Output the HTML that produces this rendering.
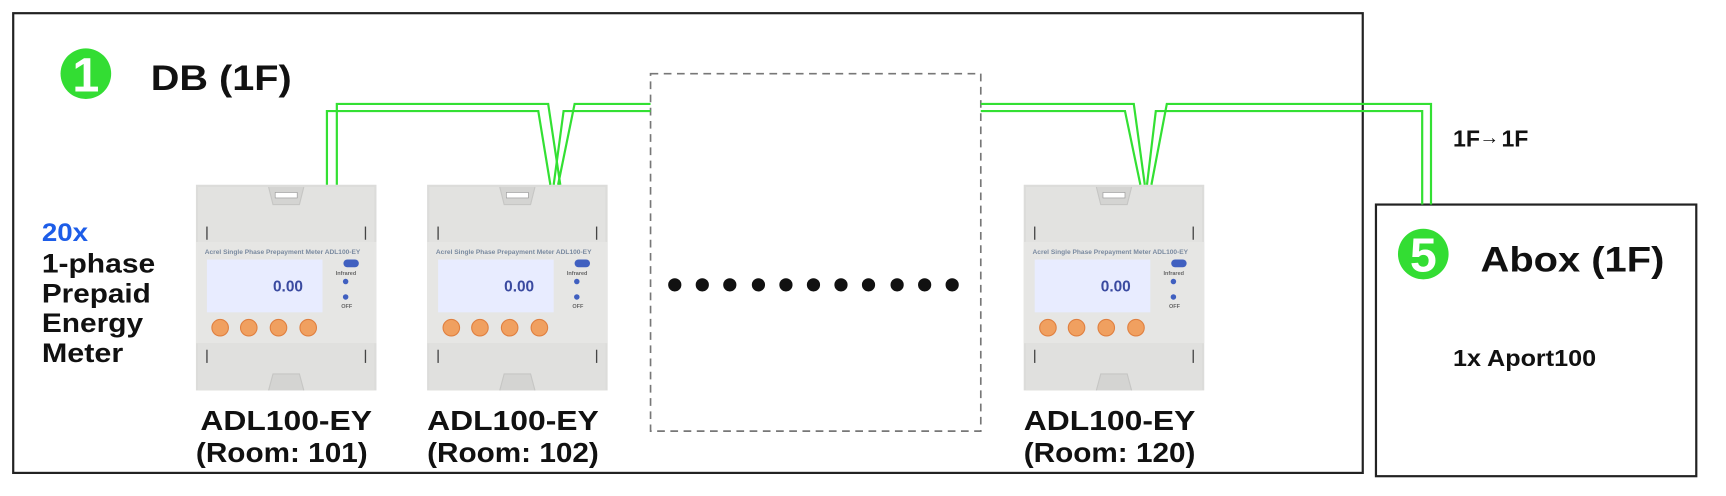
<!DOCTYPE html>
<html><head><meta charset="utf-8"><style>
html,body{margin:0;padding:0;background:#fff;}
svg{display:block;}
text{font-family:"Liberation Sans",Arial,sans-serif;font-weight:bold;}
</style></head><body>
<svg width="1726" height="496" viewBox="0 0 1568 451" preserveAspectRatio="none" xmlns="http://www.w3.org/2000/svg">
<defs>
<g id="m">
  <rect x="0" y="0" width="164" height="187" fill="#dcdcda"/>
  <rect x="2" y="2" width="160" height="50" fill="#e2e2e0"/>
  <path d="M66 2 L70 18 L94 18 L98 2" fill="#d4d4d2" stroke="#c6c6c4"/>
  <rect x="72" y="7" width="20" height="5" fill="#fff" stroke="#999" stroke-width="0.6"/>
  <line x1="10" y1="38" x2="10" y2="50" stroke="#444" stroke-width="1.2"/>
  <line x1="154" y1="38" x2="154" y2="50" stroke="#444" stroke-width="1.2"/>
  <rect x="0" y="52" width="164" height="92" fill="#e6e6e4"/>
  <text x="8" y="63" font-size="6" fill="#7a8aa0" font-weight="normal">Acrel  Single Phase Prepayment Meter  ADL100-EY</text>
  <rect x="10" y="68" width="105" height="48" fill="#e8ecff"/>
  <text x="70" y="97" font-size="14" fill="#3a4aa0" font-weight="normal">0.00</text>
  <rect x="134" y="68" width="14" height="7" rx="3.5" fill="#4060c0"/>
  <text x="127" y="82" font-size="5" fill="#666" font-weight="normal">Infrared</text>
  <circle cx="136" cy="88" r="2.5" fill="#4060c0"/>
  <circle cx="136" cy="102" r="2.5" fill="#4060c0"/>
  <text x="132" y="112" font-size="5" fill="#666" font-weight="normal">OFF</text>
  <circle cx="22" cy="130" r="7.5" fill="#f0a060" stroke="#e08040"/>
  <circle cx="48" cy="130" r="7.5" fill="#f0a060" stroke="#e08040"/>
  <circle cx="75" cy="130" r="7.5" fill="#f0a060" stroke="#e08040"/>
  <circle cx="102" cy="130" r="7.5" fill="#f0a060" stroke="#e08040"/>
  <rect x="2" y="144" width="160" height="43" fill="#e0e0de"/>
  <line x1="10" y1="150" x2="10" y2="162" stroke="#444" stroke-width="1.2"/>
  <line x1="154" y1="150" x2="154" y2="162" stroke="#444" stroke-width="1.2"/>
  <path d="M66 187 L70 172 L94 172 L98 187" fill="#d4d4d2" stroke="#c6c6c4"/>
</g>
</defs>
<rect x="12" y="12" width="1226" height="418" fill="none" stroke="#222" stroke-width="2"/>
<rect x="1250" y="186" width="291" height="247" fill="none" stroke="#222" stroke-width="2"/>
<rect x="591" y="67" width="300" height="325" fill="none" stroke="#777" stroke-width="1.5" stroke-dasharray="7,5"/>

<circle cx="78" cy="67" r="23" fill="#33dd33"/>
<text x="78" y="83" font-size="44" fill="#fff" text-anchor="middle">1</text>
<text x="137" y="82" font-size="32" fill="#111" textLength="128" lengthAdjust="spacingAndGlyphs">DB (1F)</text>

<text x="38" y="219" font-size="23" fill="#1d5de8" textLength="42" lengthAdjust="spacingAndGlyphs">20x</text>
<text x="38" y="248" font-size="24" fill="#111" textLength="103" lengthAdjust="spacingAndGlyphs">1-phase</text>
<text x="38" y="275" font-size="24" fill="#111" textLength="99" lengthAdjust="spacingAndGlyphs">Prepaid</text>
<text x="38" y="302" font-size="24" fill="#111" textLength="92" lengthAdjust="spacingAndGlyphs">Energy</text>
<text x="38" y="329" font-size="24" fill="#111" textLength="74" lengthAdjust="spacingAndGlyphs">Meter</text>

<use href="#m" x="178" y="168"/>
<use href="#m" x="388" y="168"/>
<use href="#m" x="930" y="168"/>

<g font-size="25" fill="#111" text-anchor="middle">
<text x="260" y="391" textLength="156" lengthAdjust="spacingAndGlyphs">ADL100-EY</text><text x="256" y="420" textLength="156" lengthAdjust="spacingAndGlyphs">(Room: 101)</text>
<text x="466" y="391" textLength="156" lengthAdjust="spacingAndGlyphs">ADL100-EY</text><text x="466" y="420" textLength="156" lengthAdjust="spacingAndGlyphs">(Room: 102)</text>
<text x="1008" y="391" textLength="156" lengthAdjust="spacingAndGlyphs">ADL100-EY</text><text x="1008" y="420" textLength="156" lengthAdjust="spacingAndGlyphs">(Room: 120)</text>
</g>

<g fill="#111">
<circle cx="613" cy="259" r="6"/><circle cx="638" cy="259" r="6"/><circle cx="663" cy="259" r="6"/><circle cx="689" cy="259" r="6"/><circle cx="714" cy="259" r="6"/><circle cx="739" cy="259" r="6"/><circle cx="764" cy="259" r="6"/><circle cx="789" cy="259" r="6"/><circle cx="815" cy="259" r="6"/><circle cx="840" cy="259" r="6"/><circle cx="865" cy="259" r="6"/>
</g>

<g fill="none" stroke="#33e033" stroke-width="2">
<polyline points="297,168 297,101 489,101 500,168"/>
<polyline points="306,168 306,94.5 498,94.5 509,168"/>
<polyline points="503,168 512,101 591,101"/>
<polyline points="507,168 522,94.5 591,94.5"/>
<polyline points="891,94.5 1030,94.5 1040,168"/>
<polyline points="891,101 1022,101 1036,168"/>
<polyline points="1042,168 1050,101 1292,101 1292,186"/>
<polyline points="1046,168 1060,94.5 1300,94.5 1300,186"/>
</g>

<text x="1320" y="133" font-size="21" fill="#111">1F</text>
<text x="1344" y="131" font-size="18" fill="#111" font-weight="normal">→</text>
<text x="1364" y="133" font-size="21" fill="#111">1F</text>

<circle cx="1293" cy="231" r="23" fill="#33dd33"/>
<text x="1293" y="247" font-size="44" fill="#fff" text-anchor="middle">5</text>
<text x="1345" y="247" font-size="32" fill="#111" textLength="167" lengthAdjust="spacingAndGlyphs">Abox (1F)</text>
<text x="1320" y="333" font-size="21" fill="#111" textLength="130" lengthAdjust="spacingAndGlyphs">1x Aport100</text>
</svg>
</body></html>
